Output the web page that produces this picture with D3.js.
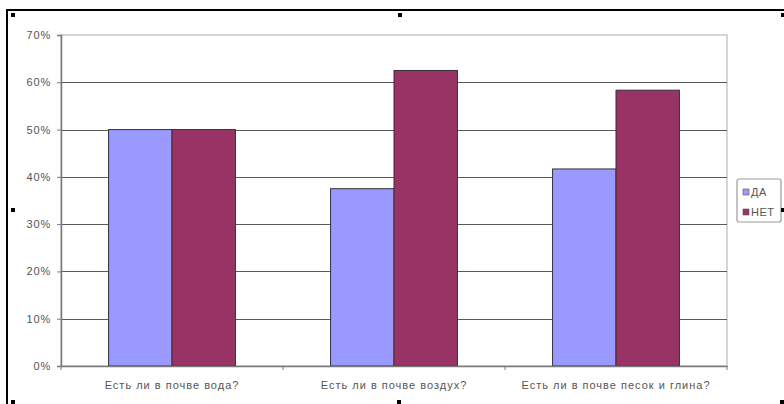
<!DOCTYPE html>
<html><head><meta charset="utf-8">
<script src="https://cdn.jsdelivr.net/npm/d3@7"></script>
<style>html,body{margin:0;padding:0;background:#fff;}svg{display:block;font-family:"Liberation Sans",Arial,sans-serif;}</style>
</head><body>
<svg id="c" width="784" height="404"></svg>
<script>
const categories = ["Есть ли в почве вода?", "Есть ли в почве воздух?", "Есть ли в почве песок и глина?"];
const seriesNames = ["ДА", "НЕТ"];
const daValues = [0.50, 0.375, 0.4167];
const netValues = [0.50, 0.625, 0.5833];
const yTicks = [0, 0.1, 0.2, 0.3, 0.4, 0.5, 0.6, 0.7];
const colors = ["#9999FF", "#993366"];

const svg = d3.select("#c");
const W = 784, H = 404;
const L = 61, R = 727, T = 35, B = 366;
const FONT = "Liberation Sans, Arial, sans-serif";
const TXT = "#555";

svg.append("rect").attr("width", W).attr("height", H).attr("fill", "#fff");

const x = d3.scaleBand().domain(categories).range([L, R]).paddingInner(0).paddingOuter(0);
const y = d3.scaleLinear().domain([0, 0.7]).range([B, T]);
const gap = x.bandwidth() * 1.5 / 3.5 / 2;
const xs = d3.scaleBand().domain(seriesNames).range([gap, x.bandwidth() - gap]).padding(0);

// plot area border
svg.append("rect").attr("x", L).attr("y", T).attr("width", R - L).attr("height", B - T)
  .attr("fill", "none").attr("stroke", "#c8c8c8").attr("stroke-width", 1.5);

// gridlines
svg.append("g").selectAll("line").data(yTicks.filter(d => d > 0 && d < 0.7)).join("line")
  .attr("x1", L).attr("x2", R).attr("y1", d => Math.round(y(d)) + 0.5).attr("y2", d => Math.round(y(d)) + 0.5)
  .attr("stroke", "#5a5a5a").attr("stroke-width", 1.2);

// bars
const data = categories.map((c, i) => ({c, vals: [daValues[i], netValues[i]]}));
const g = svg.append("g");
data.forEach(d => {
  d.vals.forEach((v, j) => {
    g.append("rect")
      .attr("x", x(d.c) + xs(seriesNames[j]))
      .attr("y", y(v))
      .attr("width", xs.bandwidth())
      .attr("height", B - y(v))
      .attr("fill", colors[j])
      .attr("stroke", "#333").attr("stroke-width", 1);
  });
});

// y axis
const yAxis = d3.axisLeft(y).tickValues(yTicks).tickFormat(d => Math.round(d * 100) + "%").tickSize(4).tickPadding(6);
const ya = svg.append("g").attr("transform", `translate(${L},0)`).call(yAxis);
ya.select(".domain").attr("stroke", "#7a7a7a").attr("stroke-width", 1.5);
ya.selectAll(".tick line").attr("stroke", "#7a7a7a");
ya.selectAll("text").attr("font-size", 11).attr("letter-spacing", 0.8).attr("fill", TXT).attr("font-family", FONT);

// x axis
const xAxis = d3.axisBottom(x).tickSize(0).tickPadding(15);
const xa = svg.append("g").attr("transform", `translate(0,${B})`).call(xAxis);
xa.select(".domain").attr("stroke", "#7a7a7a").attr("stroke-width", 1.5);
xa.selectAll("text").attr("font-size", 11).attr("letter-spacing", 1).attr("fill", TXT).attr("font-family", FONT);
// category boundary ticks
svg.append("g").selectAll("line").data(categories.concat(["end"])).join("line")
  .attr("x1", (d, i) => i < categories.length ? x(d) : R)
  .attr("x2", (d, i) => i < categories.length ? x(d) : R)
  .attr("y1", B).attr("y2", B + 4).attr("stroke", "#7a7a7a");

// legend
const lg = svg.append("g").attr("transform", "translate(737,179)");
lg.append("rect").attr("width", 44).attr("height", 43).attr("rx", 2)
  .attr("fill", "#fff").attr("stroke", "#9a9a9a").attr("stroke-width", 1.2);
seriesNames.forEach((n, i) => {
  lg.append("rect").attr("x", 6).attr("y", 10 + i * 20).attr("width", 6).attr("height", 6)
    .attr("fill", colors[i]).attr("stroke", "#555").attr("stroke-width", 0.6);
  lg.append("text").attr("x", 14).attr("y", 17 + i * 20).text(n)
    .attr("font-size", 11).attr("letter-spacing", 0.5).attr("fill", TXT);
});

// outer frame (selected chart area)
svg.append("line").attr("x1", 7).attr("x2", W).attr("y1", 10).attr("y2", 10).attr("stroke", "#000").attr("stroke-width", 2);
svg.append("line").attr("x1", 7).attr("x2", 7).attr("y1", 9).attr("y2", H).attr("stroke", "#000").attr("stroke-width", 2);

// selection handles
const handles = [[13,15],[400,15],[783,15],[13,210],[783,210],[13,402],[399,402],[782,402]];
svg.append("g").selectAll("rect").data(handles).join("rect")
  .attr("x", d => d[0] - 2).attr("y", d => d[1] - 2).attr("width", 4).attr("height", 4).attr("fill", "#000");
</script>
</body></html>
